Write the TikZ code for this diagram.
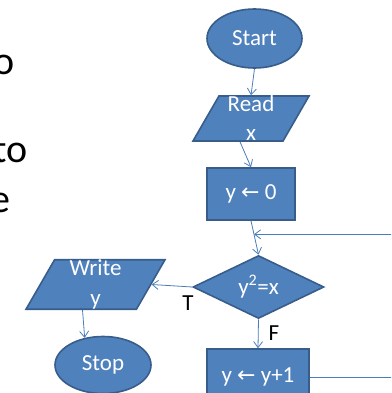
\documentclass[tikz,border=0pt]{standalone}
\usepackage{fontspec}
\setmainfont{Carlito}
\newfontfamily\arrowfont{DejaVu Sans}
\usetikzlibrary{shapes.geometric,arrows.meta,calc}
\definecolor{boxfill}{HTML}{4F81BD}
\definecolor{boxline}{HTML}{385D8A}
\definecolor{conn}{HTML}{4A7EBB}
\newcommand{\larr}{{\arrowfont\fontsize{22}{26}\selectfont\char"2190}}
\begin{document}
\begin{tikzpicture}[x=1pt,y=-1pt,
  blk/.style={fill=boxfill,draw=boxline,line width=1.6pt,text=white,inner sep=0pt,
    font=\fontsize{23}{29}\selectfont,align=center},
  term/.style={blk,ellipse},
  proc/.style={blk,rectangle},
  io/.style={blk,trapezium,trapezium left angle=60,trapezium right angle=120,trapezium stretches body},
  dec/.style={blk,diamond,aspect=2},
  conn/.style={draw=conn,line width=0.8pt,-{Straight Barb[length=6pt,width=9pt,line width=0.8pt]}},
  slide/.style={text=black,inner sep=0pt,font=\fontsize{40}{48}\selectfont},
  lab/.style={text=black,inner sep=0pt,font=\fontsize{23}{26}\selectfont}]
\useasboundingbox (0,0) rectangle (391,393);
\clip (0,0) rectangle (391,393);
% slide text fragments
\node[slide,anchor=base east] (t1) at (15,75) {o};
\node[slide,anchor=base east] (t2) at (28,162) {to};
\node[slide,anchor=base east] (t3) at (11,212) {e};
% flowchart
\node[term,minimum width=95pt,minimum height=59pt] (start) at (254.5,38.5) {Start};
\node[io,minimum width=116pt,minimum height=43pt] (read) at (251,118.5) {Read\\x};
\node[proc,minimum width=88pt,minimum height=52pt] (init) at (251,194) {y \larr{} 0};
\node[dec,minimum width=131pt,minimum height=63pt] (cond) at (258.5,287) {y\textsuperscript{2}=x};
\node[io,minimum width=139pt,minimum height=45pt] (write) at (95.5,284.5) {Write\\[1pt]y};
\node[term,minimum width=96pt,minimum height=57pt] (stop) at (103,365) {Stop};
\node[proc,minimum width=102pt,minimum height=56pt] (inc) at (258,377) {y \larr{} y+1};
\node[lab] (T) at (188,303) {T};
\node[lab] (F) at (274,333) {F};
% connectors
\draw[conn] (start.south) -- (read.north);
\draw[conn] ([xshift=-11pt]read.south) -- (init.north);
\draw[conn] (init.south) -- (cond.north);
\coordinate (back) at ($(init.south)!0.4!(cond.north)$);
\coordinate (far) at (420,0);
\draw[conn] (inc.east) -- (inc.east -| far) |- (back);
\draw[conn] (cond.west) -- (write.east);
\draw[conn] ([xshift=-13pt]write.south) -- (stop.124);
\draw[conn] (cond.south) -- (inc.north);
\end{tikzpicture}
\end{document}
